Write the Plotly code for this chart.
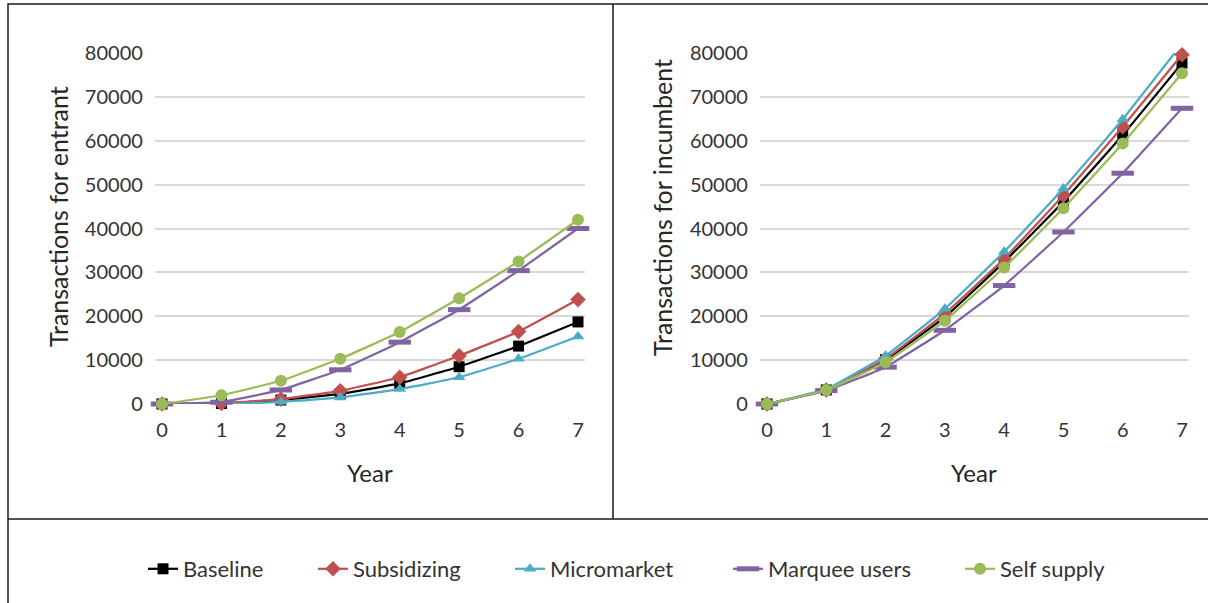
import plotly.graph_objects as go

W, H = 1208, 603

years = [0, 1, 2, 3, 4, 5, 6, 7]
series_names = ["Baseline", "Subsidizing", "Micromarket", "Marquee users", "Self supply"]

entrant_baseline = [0, 100, 900, 2300, 4700, 8500, 13200, 18700]
entrant_subsidizing = [0, 150, 1100, 3000, 6100, 11000, 16500, 23800]
entrant_micromarket = [0, -100, 500, 1500, 3400, 6100, 10300, 15400]
entrant_marquee = [0, 400, 3200, 7800, 14100, 21500, 30400, 40000]
entrant_self = [0, 2000, 5300, 10300, 16400, 24100, 32500, 42000]

incumbent_baseline = [0, 3200, 10100, 19800, 32400, 46100, 61300, 77700]
incumbent_subsidizing = [0, 3200, 10300, 20600, 33100, 47600, 63200, 79600]
incumbent_micromarket = [0, 3400, 11000, 21700, 34700, 49100, 64900, 82100]
incumbent_marquee = [0, 3050, 8400, 16800, 27000, 39200, 52600, 67400]
incumbent_self = [0, 3200, 9500, 19000, 31100, 44600, 59400, 75400]

y_ticks = [0, 10000, 20000, 30000, 40000, 50000, 60000, 70000, 80000]
y_ticktext = ["0", "10000", "20000", "30000", "40000", "50000", "60000", "70000", "80000"]

colors = ["#000000", "#c0504d", "#4bacc6", "#8064a2", "#9bbb59"]
symbols = ["square", "diamond", "triangle-up", "line-ew", "circle"]
sizes = [11, 12, 11, 16, 12]

entrant = [entrant_baseline, entrant_subsidizing, entrant_micromarket, entrant_marquee, entrant_self]
incumbent = [incumbent_baseline, incumbent_subsidizing, incumbent_micromarket, incumbent_marquee, incumbent_self]

FONT = "Lato, Carlito, Calibri, sans-serif"
TXT = "#333333"

# legend text start positions (px) for each entry
legend_text_x = [183, 353, 550, 768, 1000]
legend_names = ["legend", "legend2", "legend3", "legend4", "legend5"]

fig = go.Figure()

def mk(i):
    if symbols[i] == "line-ew":
        return dict(symbol=symbols[i], size=sizes[i], color=colors[i],
                    line=dict(color=colors[i], width=5))
    return dict(symbol=symbols[i], size=sizes[i], color=colors[i],
                line=dict(color=colors[i], width=0))

for i, name in enumerate(series_names):
    fig.add_trace(go.Scatter(x=years, y=entrant[i], mode="lines+markers", name=name,
                             line=dict(color=colors[i], width=2.25, shape="spline", smoothing=0.3),
                             marker=mk(i), xaxis="x", yaxis="y", cliponaxis=False,
                             legend=legend_names[i], showlegend=True))
for i, name in enumerate(series_names):
    fig.add_trace(go.Scatter(x=years, y=incumbent[i], mode="lines+markers", name=name,
                             line=dict(color=colors[i], width=2.25, shape="spline", smoothing=0.3),
                             marker=mk(i), xaxis="x2", yaxis="y2", cliponaxis=False,
                             showlegend=False))

def px_x(p):
    return p / W

def px_y(p):
    return 1 - p / H

# left plot: year 0 at 162px, 7 at 578px; right: 0 at 767px, 7 at 1182px
l0, l7 = 162, 578
r0, r7 = 767, 1182
pad = 0.12
lu = (l7 - l0) / 7
ru = (r7 - r0) / 7
y_top, y_bot = 53, 404

xcommon = dict(range=[-pad, 7 + pad], showgrid=False, zeroline=False, showline=False,
               tickmode="array", tickvals=years, ticks="", ticklabelstandoff=12,
               tickfont=dict(family=FONT, size=20, color=TXT), automargin=False)
ycommon = dict(range=[0, 80000], tickmode="array", tickvals=y_ticks, ticktext=y_ticktext,
               showgrid=True, gridcolor="#d9d9d9", gridwidth=2, zeroline=False, showline=False,
               ticks="", ticklabelstandoff=11, tickfont=dict(family=FONT, size=20, color=TXT),
               automargin=False)

layout = dict(
    width=W, height=H,
    margin=dict(l=0, r=0, t=0, b=0, autoexpand=False),
    paper_bgcolor="white", plot_bgcolor="white",
    xaxis=dict(domain=[px_x(l0 - pad * lu), px_x(l7 + pad * lu)], anchor="y", **xcommon),
    yaxis=dict(domain=[px_y(y_bot), px_y(y_top)], anchor="x", **ycommon),
    xaxis2=dict(domain=[px_x(r0 - pad * ru), px_x(r7 + pad * ru)], anchor="y2", **xcommon),
    yaxis2=dict(domain=[px_y(y_bot), px_y(y_top)], anchor="x2", **ycommon),
    showlegend=True,
)
for i, ln in enumerate(legend_names):
    layout[ln] = dict(orientation="h", x=px_x(legend_text_x[i] - 40), xanchor="left",
                      y=px_y(569), yanchor="middle",
                      font=dict(family=FONT, size=22, color=TXT),
                      bgcolor="rgba(0,0,0,0)")
fig.update_layout(**layout)

ann = [
    dict(text="Transactions for entrant", x=px_x(58), y=px_y(217), textangle=-90, size=25),
    dict(text="Transactions for incumbent", x=px_x(662), y=px_y(208), textangle=-90, size=25),
    dict(text="Year", x=px_x(370), y=px_y(472), textangle=0, size=24),
    dict(text="Year", x=px_x(974), y=px_y(472), textangle=0, size=24),
]
for a in ann:
    fig.add_annotation(xref="paper", yref="paper", showarrow=False, xanchor="center", yanchor="middle",
                       text=a["text"], x=a["x"], y=a["y"], textangle=a["textangle"],
                       font=dict(family=FONT, size=a["size"], color="#262626"))

line = dict(color="#1a1a1a", width=1.5)
fig.add_shape(type="rect", xref="paper", yref="paper", x0=px_x(8), x1=px_x(1212), y0=px_y(607), y1=px_y(4), line=line)
fig.add_shape(type="line", xref="paper", yref="paper", x0=px_x(8), x1=px_x(1212), y0=px_y(519), y1=px_y(519), line=line)
fig.add_shape(type="line", xref="paper", yref="paper", x0=px_x(613), x1=px_x(613), y0=px_y(4), y1=px_y(519), line=line)

fig.write_html("out.html")
